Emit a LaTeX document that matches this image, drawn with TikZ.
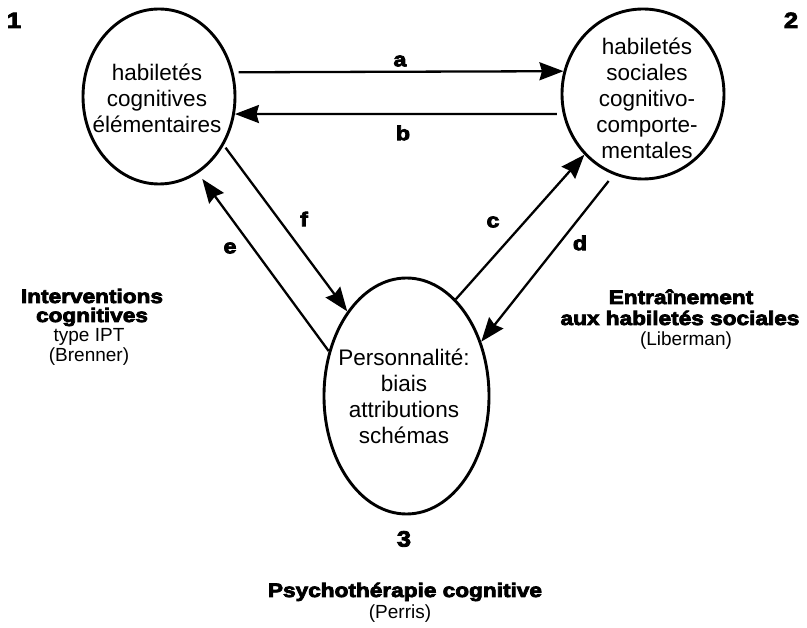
\documentclass[tikz,border=0pt]{standalone}
\usepackage{fontspec}
\setmainfont{Liberation Sans}
\newfontfamily\heavy{Liberation Sans}[BoldFeatures={FakeStretch=1.16,FakeBold=4}]
\usetikzlibrary{arrows.meta,shapes.geometric}
\begin{document}
\begin{tikzpicture}[x=1pt,y=-1pt,
  blob/.style={ellipse, draw, line width=2.9pt, inner sep=0pt},
  intext/.style={align=center, inner sep=0pt, font=\fontsize{22.5}{26}\selectfont},
  conn/.style={line width=2.3pt, -{Stealth[length=24pt,width=18pt,inset=2.5pt]}},
  lbl/.style={inner sep=0pt, font=\fontsize{20}{22}\heavy\bfseries},
  num/.style={inner sep=0pt, anchor=base, font=\fontsize{22}{22}\heavy\bfseries},
  head/.style={inner sep=0pt, anchor=base, font=\fontsize{19.5}{21}\heavy\bfseries},
  sub/.style={inner sep=0pt, anchor=base, font=\fontsize{19}{20}\selectfont}]
\useasboundingbox (0,0) rectangle (807,628);
\fill[white] (0,0) rectangle (807,628);

% nodes
\node[blob, minimum width=152pt, minimum height=175pt] (c1) at (159,96.5) {};
\node[blob, minimum width=162pt, minimum height=170pt] (c2) at (643,94) {};
\node[blob, minimum width=165pt, minimum height=236pt] (c3) at (406.5,396) {};

\node[intext] (t1) at (157,98) {habiletés\\cognitives\\élémentaires};
\node[intext] (t2) at (647,98) {habiletés\\sociales\\cognitivo-\\comporte-\\mentales};
\node[intext] (t3) at (404,396) {Personnalité:\\biais\\attributions\\schémas};

% numbers
\node[num] (n1) at (14,28) {1};
\node[num] (n2) at (791,28) {2};
\node[num] (n3) at (404,546.5) {3};

% connectors
\draw[conn, shorten <=5pt] (c1.18) -- (c2.164);
\draw[conn, shorten <=6pt] (c2.-166) -- (c1.-13);
\draw[conn, shorten <=3pt] (c1.-37) -- (c3.125);
\draw[conn, shorten >=7pt] (c3.150) -- (c1.-63);
\draw[conn] (c3.63) -- (c2.226);
\draw[conn, shorten <=8pt] (c2.250) -- (c3.36);

% connector labels
\node[lbl] (la) at (400,61) {a};
\node[lbl] (lb) at (403,133) {b};
\node[lbl] (lc) at (493,222) {c};
\node[lbl] (ld) at (580,243) {d};
\node[lbl] (le) at (230,248) {e};
\node[lbl] (lf) at (304,219) {f};

% side captions
\node[head] (h1a) at (92,303) {Interventions};
\node[head] (h1b) at (92,322) {cognitives};
\node[sub]  (s1a) at (89,342) {type IPT};
\node[sub]  (s1b) at (89,362) {(Brenner)};

\node[head] (h2a) at (681,304) {Entraînement};
\node[head] (h2b) at (680,325) {aux habiletés sociales};
\node[sub]  (s2a) at (686,346) {(Liberman)};

\node[head] (h3a) at (405,597) {Psychothérapie cognitive};
\node[sub]  (s3a) at (400,618) {(Perris)};
\end{tikzpicture}
\end{document}
